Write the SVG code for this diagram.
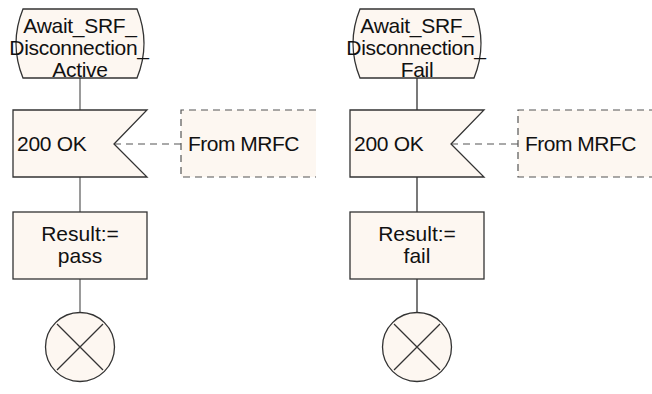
<svg xmlns="http://www.w3.org/2000/svg" width="652" height="394" viewBox="0 0 652 394">
<style>
.shape{fill:#fdf7f1;stroke:#333;stroke-width:1.3}
.dfill{fill:#fdf7f1;stroke:none}
.dash{fill:none;stroke:#555;stroke-width:1.2;stroke-dasharray:7 5}
.conn{fill:none;stroke:#666;stroke-width:1.3}
.conn2{fill:none;stroke:#222;stroke-width:1.2}
text{font-family:"Liberation Sans",Arial,sans-serif;font-size:21px;fill:#111}
.c{text-anchor:middle}
</style>
<rect width="652" height="394" fill="#fff"/>
<g id="connectors">
<path class="conn" d="M80,78V110M80,177V212M80,279V312"/>
<path class="dash" d="M114,144H181"/>
<path class="conn2" d="M417,78V110M417,177V212M417,279V312"/>
<path class="dash" d="M451,144H518"/>
</g>
<g id="state1">
<path class="shape" d="M23,9H137Q151,43.5 137,78H23Q9,43.5 23,9Z"/>
<text class="c" x="80" y="33" letter-spacing="-0.3">Await_SRF_</text>
<text class="c" x="79" y="55" letter-spacing="-0.3">Disconnection_</text>
<text class="c" x="80" y="77" letter-spacing="-0.3">Active</text>
</g>
<g id="input1">
<path class="shape" d="M13,110H147L114,144L147,177H13Z"/>
<text x="17" y="151" letter-spacing="-0.3">200 OK</text>
</g>
<g id="comment1">
<rect class="dfill" x="181" y="110" width="135" height="67"/>
<path class="dash" d="M316,110H181V177H316"/>
<text x="188" y="151" letter-spacing="-0.5">From MRFC</text>
</g>
<g id="task1">
<rect class="shape" x="13" y="212" width="134" height="67"/>
<text class="c" x="80" y="241">Result:=</text>
<text class="c" x="80" y="263">pass</text>
</g>
<g id="stop1">
<circle class="shape" cx="80" cy="347" r="34.5"/>
<path class="shape" d="M57,324L103,370M103,324L57,370"/>
</g>
<g id="state2">
<path class="shape" d="M360,9H474Q488,43.5 474,78H360Q346,43.5 360,9Z"/>
<text class="c" x="417" y="33" letter-spacing="-0.3">Await_SRF_</text>
<text class="c" x="416" y="55" letter-spacing="-0.3">Disconnection_</text>
<text class="c" x="417" y="77" letter-spacing="-0.3">Fail</text>
</g>
<g id="input2">
<path class="shape" d="M350,110H484L451,144L484,177H350Z"/>
<text x="354" y="151" letter-spacing="-0.3">200 OK</text>
</g>
<g id="comment2">
<rect class="dfill" x="518" y="110" width="140" height="67"/>
<path class="dash" d="M656,110H518V177H656"/>
<text x="525" y="151" letter-spacing="-0.5">From MRFC</text>
</g>
<g id="task2">
<rect class="shape" x="350" y="212" width="134" height="67"/>
<text class="c" x="417" y="241">Result:=</text>
<text class="c" x="417" y="263">fail</text>
</g>
<g id="stop2">
<circle class="shape" cx="417" cy="347" r="34.5"/>
<path class="shape" d="M394,324L440,370M440,324L394,370"/>
</g>
</svg>
